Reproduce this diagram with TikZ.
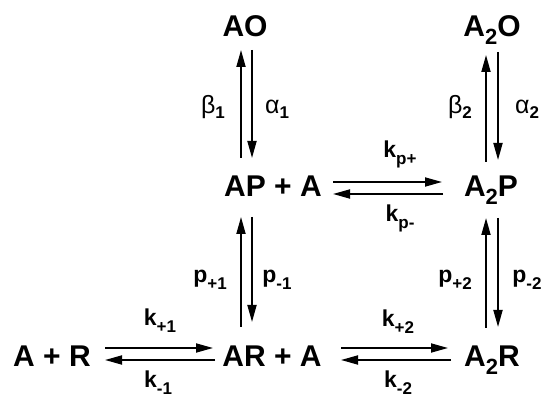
\documentclass[tikz,border=0pt]{standalone}
\usepackage{fontspec}
\setmainfont{Liberation Sans}
\usetikzlibrary{arrows.meta}
\newcommand{\nsub}[1]{\raisebox{-8pt}{\fontsize{22}{24}\selectfont #1}}
\newcommand{\lsub}[1]{\raisebox{-7pt}{\fontsize{17}{19}\selectfont\bfseries #1}}
\newcommand{\gsub}[1]{\raisebox{-5pt}{\fontsize{17}{19}\selectfont\bfseries #1}}
\newcommand{\klab}[2]{{\fontsize{23}{25}\selectfont\bfseries #1\lsub{#2}}}
\newcommand{\glab}[2]{{\fontsize{25}{27}\selectfont #1\gsub{#2}}}
\begin{document}
\begin{tikzpicture}[x=1pt,y=1pt,
  species/.style={font=\fontsize{30}{36}\selectfont\bfseries, anchor=base, inner sep=0pt},
  rate/.style={anchor=base, inner sep=0pt},
  arr/.style={line width=1.8pt, -{Triangle[length=17pt,width=9pt]}}]
\useasboundingbox (0,0) rectangle (545,398);
% species
\node[species] (ao)  at (245,361) {AO};
\node[species] (a2o) at (492,361) {A\nsub{2}O};
\node[species] (ap)  at (273,201) {AP + A};
\node[species] (a2p) at (491,201) {A\nsub{2}P};
\node[species] (ar)  at (52,31)   {A + R};
\node[species] (ara) at (272,31)  {AR + A};
\node[species] (a2r) at (492,31)  {A\nsub{2}R};
% vertical: AO <-> AP + A
\draw[arr] ([shift={(-32,39)}]ap.base) -- ([shift={(-4,-13)}]ao.base);
\draw[arr] ([shift={(7,-13)}]ao.base) -- ([shift={(-21,39)}]ap.base);
% vertical: A2O <-> A2P
\draw[arr] ([shift={(-5,35)}]a2p.base) -- ([shift={(-6,-18)}]a2o.base);
\draw[arr] ([shift={(6,-15)}]a2o.base) -- ([shift={(7,37)}]a2p.base);
% vertical: AP + A <-> AR + A
\draw[arr] ([shift={(-31,40)}]ara.base) -- ([shift={(-32,-20)}]ap.base);
\draw[arr] ([shift={(-21,-20)}]ap.base) -- ([shift={(-20,45)}]ara.base);
% vertical: A2P <-> A2R
\draw[arr] ([shift={(-6,39)}]a2r.base) -- ([shift={(-5,-21)}]a2p.base);
\draw[arr] ([shift={(7,-21)}]a2p.base) -- ([shift={(6,40)}]a2r.base);
% horizontal: AP + A <-> A2P
\draw[arr] ([shift={(60,15)}]ap.base) -- ([shift={(-49,15)}]a2p.base);
\draw[arr] ([shift={(-48,3)}]a2p.base) -- ([shift={(60,3)}]ap.base);
% horizontal: A + R <-> AR + A
\draw[arr] ([shift={(53,19)}]ar.base) -- ([shift={(-59,19)}]ara.base);
\draw[arr] ([shift={(-57,7)}]ara.base) -- ([shift={(53,7)}]ar.base);
% horizontal: AR + A <-> A2R
\draw[arr] ([shift={(69,19)}]ara.base) -- ([shift={(-44,19)}]a2r.base);
\draw[arr] ([shift={(-41,7)}]a2r.base) -- ([shift={(69,7)}]ara.base);
% rate labels
\node[rate] (b1) at (213,284) {\glab{β}{1}};
\node[rate] (a1) at (277,284) {\glab{α}{1}};
\node[rate] (b2) at (460,284) {\glab{β}{2}};
\node[rate] (a2) at (527,284) {\glab{α}{2}};
\node[rate] (kpp) at (400,240) {\klab{k}{p+}};
\node[rate] (kpm) at (400,176) {\klab{k}{p-}};
\node[rate] (pp1) at (210,115) {\klab{p}{+1}};
\node[rate] (pm1) at (277,115) {\klab{p}{-1}};
\node[rate] (pp2) at (455,115) {\klab{p}{+2}};
\node[rate] (pm2) at (527,115) {\klab{p}{-2}};
\node[rate] (kp1) at (160,72) {\klab{k}{+1}};
\node[rate] (km1) at (158,10) {\klab{k}{-1}};
\node[rate] (kp2) at (398,71) {\klab{k}{+2}};
\node[rate] (km2) at (398,10) {\klab{k}{-2}};
\end{tikzpicture}
\end{document}
